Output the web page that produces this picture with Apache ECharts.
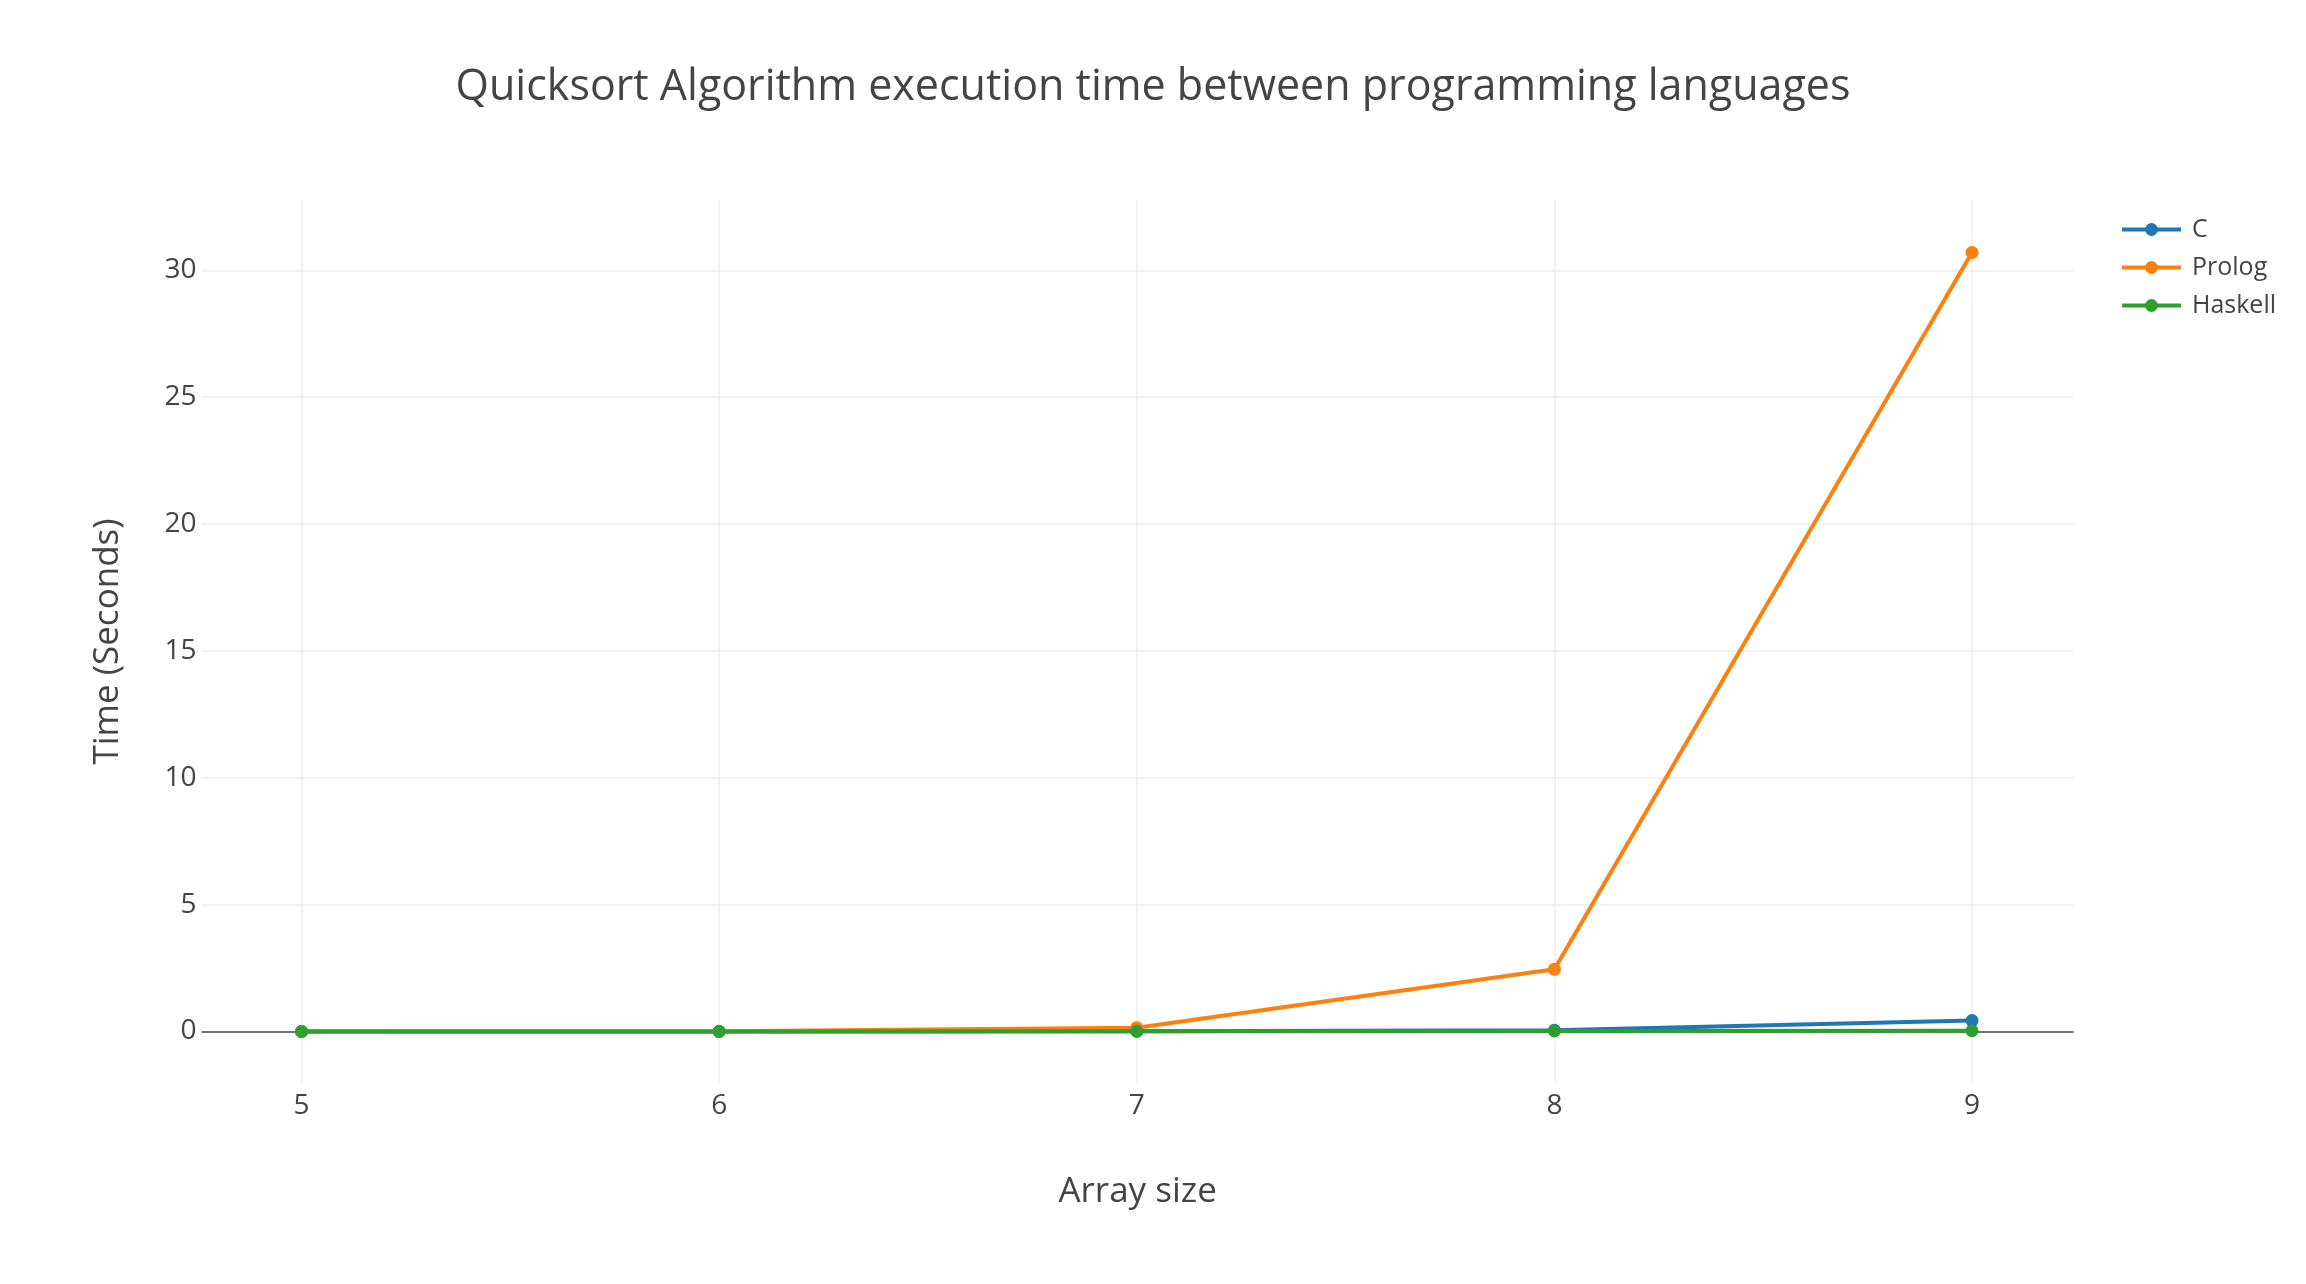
<!DOCTYPE html>
<html>
<head>
<meta charset="utf-8">
<script src="https://cdn.jsdelivr.net/npm/echarts@6/dist/echarts.min.js"></script>
<style>
  html, body { margin: 0; padding: 0; background: #fff; }
  #chart { width: 2306px; height: 1284px; }
</style>
</head>
<body>
<div id="chart"></div>
<script>
// array sizes (x) and measured times in seconds
const arraySizes = [5, 6, 7, 8, 9]
const cTimes = [0.0, 0.0, 0.01, 0.05, 0.43]
const prologTimes = [0.0, 0.01, 0.15, 2.45, 30.7]
const haskellTimes = [0.0, 0.0, 0.01, 0.02, 0.03]
const yTicks = [0, 5, 10, 15, 20, 25, 30]

const seriesColors = ['#1f77b4', '#ff7f0e', '#2ca02c']
const fontFamily = '"Open Sans", Verdana, Arial, sans-serif'

function pairs(values) {
    return arraySizes.map((x, i) => [x, values[i]])
}

function lineSeries(name, values, color) {
    return {
        name: name,
        type: 'line',
        data: pairs(values),
        symbol: 'circle',
        symbolSize: 13,
        showSymbol: true,
        itemStyle: { color: color },
        lineStyle: { color: color, width: 4 },
        emphasis: { disabled: true },
        animation: false
    }
}

const chart = echarts.init(document.getElementById('chart'))

const option = {
    backgroundColor: '#fff',
    textStyle: { fontFamily: fontFamily },
    title: {
        text: 'Quicksort Algorithm execution time between programming languages',
        left: 'center',
        top: 61,
        textStyle: {
            fontFamily: fontFamily,
            fontSize: 43,
            fontWeight: 'normal',
            color: '#444'
        }
    },
    legend: {
        orient: 'vertical',
        left: 2115,
        top: 212,
        padding: 5,
        itemWidth: 59,
        itemHeight: 16,
        itemGap: 13,
        lineStyle: { width: 4 },
        textStyle: {
            fontFamily: fontFamily,
            fontSize: 25,
            color: '#444',
            padding: [0, 0, 0, 6]
        },
        data: ['C', 'Prolog', 'Haskell']
    },
    grid: {
        left: 201.5,
        right: 232.3,
        top: 200,
        bottom: 201,
        containLabel: false
    },
    xAxis: {
        type: 'value',
        min: 4.7605,
        max: 9.2435,
        name: 'Array size',
        nameLocation: 'middle',
        nameGap: 92,
        nameTextStyle: { fontFamily: fontFamily, fontSize: 35, color: '#444' },
        axisLine: { show: false },
        axisTick: { show: false, customValues: arraySizes },
        axisLabel: {
            customValues: arraySizes,
            fontFamily: fontFamily,
            fontSize: 28,
            color: '#444',
            margin: 9
        },
        splitLine: {
            show: true,
            lineStyle: { color: '#eeeeee', width: 1.5 }
        }
    },
    yAxis: {
        type: 'value',
        min: -2.03,
        max: 32.77,
        name: 'Time (Seconds)',
        nameLocation: 'middle',
        nameGap: 76,
        nameRotate: 90,
        nameTextStyle: { fontFamily: fontFamily, fontSize: 35, color: '#444' },
        axisLine: { show: false },
        axisTick: { show: false, customValues: yTicks },
        axisLabel: {
            customValues: yTicks,
            fontFamily: fontFamily,
            fontSize: 28,
            color: '#444',
            margin: 5
        },
        splitLine: {
            show: true,
            lineStyle: {
                color: ['#444444', '#eeeeee', '#eeeeee', '#eeeeee', '#eeeeee', '#eeeeee', '#eeeeee'],
                width: 1.5
            }
        }
    },
    series: [
        lineSeries('C', cTimes, seriesColors[0]),
        lineSeries('Prolog', prologTimes, seriesColors[1]),
        lineSeries('Haskell', haskellTimes, seriesColors[2])
    ]
}

chart.setOption(option)
</script>
</body>
</html>
